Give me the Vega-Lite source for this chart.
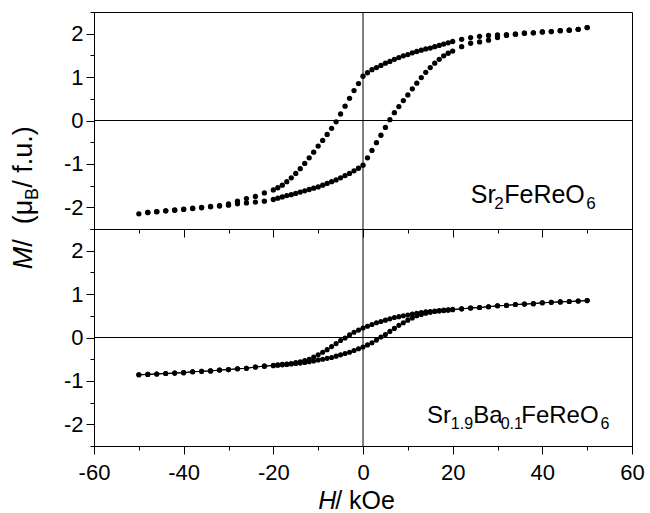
{
  "$schema": "https://vega.github.io/schema/vega-lite/v6.json",
  "background": "white",
  "autosize": {"type": "pad"},
  "padding": {"left": 9, "top": 11, "right": 5, "bottom": 0},
  "config": {
    "view": {"stroke": "black", "strokeWidth": 1},
    "font": "Liberation Sans",
    "axis": {"grid": false, "domainColor": "black", "tickColor": "black", "labelColor": "black", "labelFont": "Liberation Sans", "labelFontSize": 22, "tickWidth": 1, "domainWidth": 1}
  },
  "datasets": {
    "one": [{}],
    "top": [
      {"b":"d","H":50,"M":2.14},{"b":"d","H":48,"M":2.10},{"b":"d","H":46,"M":2.08},{"b":"d","H":44,"M":2.07},{"b":"d","H":42,"M":2.05},{"b":"d","H":40,"M":2.04},{"b":"d","H":38,"M":2.02},{"b":"d","H":36,"M":2.01},{"b":"d","H":34,"M":1.99},{"b":"d","H":32,"M":1.98},{"b":"d","H":30,"M":1.97},{"b":"d","H":28,"M":1.96},{"b":"d","H":26,"M":1.94},{"b":"d","H":24,"M":1.91},{"b":"d","H":22,"M":1.87},
      {"b":"d","H":20,"M":1.82},{"b":"d","H":19,"M":1.79},{"b":"d","H":18,"M":1.76},{"b":"d","H":17,"M":1.73},{"b":"d","H":16,"M":1.70},{"b":"d","H":15,"M":1.67},{"b":"d","H":14,"M":1.65},{"b":"d","H":13,"M":1.62},{"b":"d","H":12,"M":1.59},{"b":"d","H":11,"M":1.56},{"b":"d","H":10,"M":1.52},{"b":"d","H":9,"M":1.49},{"b":"d","H":8,"M":1.45},{"b":"d","H":7,"M":1.41},{"b":"d","H":6,"M":1.36},{"b":"d","H":5,"M":1.32},{"b":"d","H":4,"M":1.27},{"b":"d","H":3,"M":1.22},{"b":"d","H":2,"M":1.17},{"b":"d","H":1,"M":1.10},{"b":"d","H":0,"M":1.02},
      {"b":"d","H":-1,"M":0.85},{"b":"d","H":-2,"M":0.69},{"b":"d","H":-3,"M":0.51},{"b":"d","H":-4,"M":0.33},{"b":"d","H":-5,"M":0.15},{"b":"d","H":-6,"M":-0.03},{"b":"d","H":-7,"M":-0.18},{"b":"d","H":-8,"M":-0.32},{"b":"d","H":-9,"M":-0.46},{"b":"d","H":-10,"M":-0.59},{"b":"d","H":-11,"M":-0.73},{"b":"d","H":-12,"M":-0.86},{"b":"d","H":-13,"M":-0.99},{"b":"d","H":-14,"M":-1.11},{"b":"d","H":-15,"M":-1.22},{"b":"d","H":-16,"M":-1.32},{"b":"d","H":-17,"M":-1.41},{"b":"d","H":-18,"M":-1.49},{"b":"d","H":-19,"M":-1.55},{"b":"d","H":-20,"M":-1.60},
      {"b":"d","H":-22,"M":-1.67},{"b":"d","H":-24,"M":-1.75},{"b":"d","H":-26,"M":-1.80},{"b":"d","H":-28,"M":-1.86},{"b":"d","H":-30,"M":-1.92},{"b":"d","H":-32,"M":-1.96},{"b":"d","H":-34,"M":-1.98},{"b":"d","H":-36,"M":-2.00},{"b":"d","H":-38,"M":-2.02},{"b":"d","H":-40,"M":-2.04},{"b":"d","H":-42,"M":-2.06},{"b":"d","H":-44,"M":-2.08},{"b":"d","H":-46,"M":-2.10},{"b":"d","H":-48,"M":-2.12},{"b":"d","H":-50,"M":-2.15},
      {"b":"a","H":-48,"M":-2.12},{"b":"a","H":-46,"M":-2.10},{"b":"a","H":-44,"M":-2.08},{"b":"a","H":-42,"M":-2.07},{"b":"a","H":-40,"M":-2.05},{"b":"a","H":-38,"M":-2.03},{"b":"a","H":-36,"M":-2.01},{"b":"a","H":-34,"M":-1.99},{"b":"a","H":-32,"M":-1.97},{"b":"a","H":-30,"M":-1.95},{"b":"a","H":-28,"M":-1.92},{"b":"a","H":-26,"M":-1.90},{"b":"a","H":-24,"M":-1.88},{"b":"a","H":-22,"M":-1.86},
      {"b":"a","H":-20,"M":-1.82},{"b":"a","H":-19,"M":-1.79},{"b":"a","H":-18,"M":-1.76},{"b":"a","H":-17,"M":-1.73},{"b":"a","H":-16,"M":-1.71},{"b":"a","H":-15,"M":-1.68},{"b":"a","H":-14,"M":-1.65},{"b":"a","H":-13,"M":-1.62},{"b":"a","H":-12,"M":-1.59},{"b":"a","H":-11,"M":-1.56},{"b":"a","H":-10,"M":-1.53},{"b":"a","H":-9,"M":-1.49},{"b":"a","H":-8,"M":-1.45},{"b":"a","H":-7,"M":-1.41},{"b":"a","H":-6,"M":-1.37},{"b":"a","H":-5,"M":-1.32},{"b":"a","H":-4,"M":-1.27},{"b":"a","H":-3,"M":-1.22},{"b":"a","H":-2,"M":-1.16},{"b":"a","H":-1,"M":-1.10},{"b":"a","H":0,"M":-1.03},
      {"b":"a","H":1,"M":-0.86},{"b":"a","H":2,"M":-0.69},{"b":"a","H":3,"M":-0.51},{"b":"a","H":4,"M":-0.34},{"b":"a","H":5,"M":-0.16},{"b":"a","H":6,"M":0.02},{"b":"a","H":7,"M":0.18},{"b":"a","H":8,"M":0.32},{"b":"a","H":9,"M":0.46},{"b":"a","H":10,"M":0.59},{"b":"a","H":11,"M":0.73},{"b":"a","H":12,"M":0.86},{"b":"a","H":13,"M":0.99},{"b":"a","H":14,"M":1.11},{"b":"a","H":15,"M":1.22},{"b":"a","H":16,"M":1.32},{"b":"a","H":17,"M":1.41},{"b":"a","H":18,"M":1.49},{"b":"a","H":19,"M":1.55},{"b":"a","H":20,"M":1.60},
      {"b":"a","H":22,"M":1.70},{"b":"a","H":24,"M":1.78},{"b":"a","H":26,"M":1.81},{"b":"a","H":28,"M":1.85},{"b":"a","H":30,"M":1.91},{"b":"a","H":32,"M":1.96},{"b":"a","H":34,"M":1.99},{"b":"a","H":36,"M":2.01},{"b":"a","H":38,"M":2.02},{"b":"a","H":40,"M":2.04},{"b":"a","H":42,"M":2.05},{"b":"a","H":44,"M":2.07},{"b":"a","H":46,"M":2.08},{"b":"a","H":48,"M":2.10},{"b":"a","H":50,"M":2.14}
    ],
    "bottom": [
      {"b":"d","H":50,"M":0.85},{"b":"d","H":48,"M":0.84},{"b":"d","H":46,"M":0.83},{"b":"d","H":44,"M":0.82},{"b":"d","H":42,"M":0.81},{"b":"d","H":40,"M":0.80},{"b":"d","H":38,"M":0.78},{"b":"d","H":36,"M":0.77},{"b":"d","H":34,"M":0.76},{"b":"d","H":32,"M":0.74},{"b":"d","H":30,"M":0.73},{"b":"d","H":28,"M":0.71},{"b":"d","H":26,"M":0.69},{"b":"d","H":24,"M":0.68},{"b":"d","H":22,"M":0.66},
      {"b":"d","H":20,"M":0.65},{"b":"d","H":19,"M":0.64},{"b":"d","H":18,"M":0.63},{"b":"d","H":17,"M":0.62},{"b":"d","H":16,"M":0.61},{"b":"d","H":15,"M":0.60},{"b":"d","H":14,"M":0.59},{"b":"d","H":13,"M":0.575},{"b":"d","H":12,"M":0.56},{"b":"d","H":11,"M":0.54},{"b":"d","H":10,"M":0.52},{"b":"d","H":9,"M":0.50},{"b":"d","H":8,"M":0.48},{"b":"d","H":7,"M":0.46},{"b":"d","H":6,"M":0.43},{"b":"d","H":5,"M":0.40},{"b":"d","H":4,"M":0.37},{"b":"d","H":3,"M":0.34},{"b":"d","H":2,"M":0.30},{"b":"d","H":1,"M":0.26},{"b":"d","H":0,"M":0.22},
      {"b":"d","H":-1,"M":0.17},{"b":"d","H":-2,"M":0.12},{"b":"d","H":-3,"M":0.06},{"b":"d","H":-4,"M":-0.01},{"b":"d","H":-5,"M":-0.07},{"b":"d","H":-6,"M":-0.14},{"b":"d","H":-7,"M":-0.21},{"b":"d","H":-8,"M":-0.28},{"b":"d","H":-9,"M":-0.34},{"b":"d","H":-10,"M":-0.40},{"b":"d","H":-11,"M":-0.45},{"b":"d","H":-12,"M":-0.50},{"b":"d","H":-13,"M":-0.53},{"b":"d","H":-14,"M":-0.56},{"b":"d","H":-15,"M":-0.58},{"b":"d","H":-16,"M":-0.60},{"b":"d","H":-17,"M":-0.61},{"b":"d","H":-18,"M":-0.62},{"b":"d","H":-19,"M":-0.63},{"b":"d","H":-20,"M":-0.64},
      {"b":"d","H":-22,"M":-0.66},{"b":"d","H":-24,"M":-0.68},{"b":"d","H":-26,"M":-0.71},{"b":"d","H":-28,"M":-0.72},{"b":"d","H":-30,"M":-0.74},{"b":"d","H":-32,"M":-0.75},{"b":"d","H":-34,"M":-0.77},{"b":"d","H":-36,"M":-0.78},{"b":"d","H":-38,"M":-0.79},{"b":"d","H":-40,"M":-0.81},{"b":"d","H":-42,"M":-0.82},{"b":"d","H":-44,"M":-0.83},{"b":"d","H":-46,"M":-0.84},{"b":"d","H":-48,"M":-0.85},{"b":"d","H":-50,"M":-0.86},
      {"b":"a","H":-50,"M":-0.86},{"b":"a","H":-48,"M":-0.85},{"b":"a","H":-46,"M":-0.84},{"b":"a","H":-44,"M":-0.83},{"b":"a","H":-42,"M":-0.82},{"b":"a","H":-40,"M":-0.81},{"b":"a","H":-38,"M":-0.79},{"b":"a","H":-36,"M":-0.78},{"b":"a","H":-34,"M":-0.77},{"b":"a","H":-32,"M":-0.75},{"b":"a","H":-30,"M":-0.74},{"b":"a","H":-28,"M":-0.72},{"b":"a","H":-26,"M":-0.71},{"b":"a","H":-24,"M":-0.68},{"b":"a","H":-22,"M":-0.66},
      {"b":"a","H":-20,"M":-0.65},{"b":"a","H":-19,"M":-0.64},{"b":"a","H":-18,"M":-0.63},{"b":"a","H":-17,"M":-0.62},{"b":"a","H":-16,"M":-0.61},{"b":"a","H":-15,"M":-0.60},{"b":"a","H":-14,"M":-0.59},{"b":"a","H":-13,"M":-0.575},{"b":"a","H":-12,"M":-0.56},{"b":"a","H":-11,"M":-0.54},{"b":"a","H":-10,"M":-0.52},{"b":"a","H":-9,"M":-0.50},{"b":"a","H":-8,"M":-0.48},{"b":"a","H":-7,"M":-0.46},{"b":"a","H":-6,"M":-0.43},{"b":"a","H":-5,"M":-0.40},{"b":"a","H":-4,"M":-0.37},{"b":"a","H":-3,"M":-0.34},{"b":"a","H":-2,"M":-0.30},{"b":"a","H":-1,"M":-0.26},{"b":"a","H":0,"M":-0.22},
      {"b":"a","H":1,"M":-0.17},{"b":"a","H":2,"M":-0.12},{"b":"a","H":3,"M":-0.06},{"b":"a","H":4,"M":0.01},{"b":"a","H":5,"M":0.07},{"b":"a","H":6,"M":0.14},{"b":"a","H":7,"M":0.21},{"b":"a","H":8,"M":0.28},{"b":"a","H":9,"M":0.34},{"b":"a","H":10,"M":0.40},{"b":"a","H":11,"M":0.45},{"b":"a","H":12,"M":0.50},{"b":"a","H":13,"M":0.53},{"b":"a","H":14,"M":0.56},{"b":"a","H":15,"M":0.58},{"b":"a","H":16,"M":0.60},{"b":"a","H":17,"M":0.61},{"b":"a","H":18,"M":0.62},{"b":"a","H":19,"M":0.63},{"b":"a","H":20,"M":0.64},
      {"b":"a","H":22,"M":0.66},{"b":"a","H":24,"M":0.68},{"b":"a","H":26,"M":0.69},{"b":"a","H":28,"M":0.71},{"b":"a","H":30,"M":0.73},{"b":"a","H":32,"M":0.74},{"b":"a","H":34,"M":0.76},{"b":"a","H":36,"M":0.77},{"b":"a","H":38,"M":0.78},{"b":"a","H":40,"M":0.80},{"b":"a","H":42,"M":0.81},{"b":"a","H":44,"M":0.82},{"b":"a","H":46,"M":0.83},{"b":"a","H":48,"M":0.84},{"b":"a","H":50,"M":0.85}
    ],
    "txt": [
      {"p":"top","r":"main","H":24.05,"M":-1.91,"t":"Sr"},
      {"p":"top","r":"sub","H":29.3,"M":-1.91,"t":"2"},
      {"p":"top","r":"main","H":31.5,"M":-1.91,"t":"FeReO"},
      {"p":"top","r":"sub","H":49.8,"M":-1.91,"t":"6"},
      {"p":"bottom","r":"main","H":14.25,"M":-1.96,"t":"Sr"},
      {"p":"bottom","r":"sub","H":19.6,"M":-1.96,"t":"1.9"},
      {"p":"bottom","r":"main","H":24.6,"M":-1.96,"t":"Ba"},
      {"p":"bottom","r":"sub","H":30.7,"M":-1.96,"t":"0.1"},
      {"p":"bottom","r":"main","H":35.3,"M":-1.96,"t":"FeReO"},
      {"p":"bottom","r":"sub","H":52.95,"M":-1.96,"t":"6"},
      {"p":"top","r":"yit","H":-73.8,"M":-3.43,"t":"M"},
      {"p":"top","r":"y","H":-73.8,"M":-2.91,"t":"/"},
      {"p":"top","r":"y","H":-73.8,"M":-2.39,"t":"(μ"},
      {"p":"top","r":"ysub","H":-73.8,"M":-1.83,"t":"B"},
      {"p":"top","r":"y","H":-73.8,"M":-1.55,"t":"/ f.u.)"},
      {"p":"bottom","r":"xit","H":-9.97,"M":-3.96,"t":"H"},
      {"p":"bottom","r":"x","H":-6.2,"M":-3.96,"t":"/ kOe"}
    ]
  },
  "spacing": 0,
  "bounds": "flush",
  "vconcat": [
    {
      "width": 538,
      "height": 217,
      "resolve": {"axis": {"x": "independent", "y": "independent"}},
      "layer": [
        {"data": {"name": "one"}, "mark": {"type": "rule", "color": "black", "strokeWidth": 1},
         "encoding": {"x": {"datum": 0, "type": "quantitative", "scale": {"domain": [-60, 60], "nice": false, "zero": false},
                            "axis": {"orient": "bottom", "values": [-50,-30,-10,10,30,50], "labels": false, "domain": false, "tickSize": 4, "title": null}}}},
        {"data": {"name": "one"}, "mark": {"type": "rule", "color": "black", "strokeWidth": 1},
         "encoding": {"y": {"datum": 0, "type": "quantitative", "scale": {"domain": [-2.5, 2.5], "nice": false, "zero": false},
                            "axis": {"orient": "left", "values": [-2.5,-1.5,-0.5,0.5,1.5,2.5], "labels": false, "domain": false, "tickSize": 4, "title": null}}}},
        {"data": {"name": "top"}, "mark": {"type": "circle", "size": 28, "color": "black", "opacity": 1},
         "encoding": {
           "x": {"field": "H", "type": "quantitative", "scale": {"domain": [-60, 60], "nice": false, "zero": false},
                 "axis": {"orient": "bottom", "values": [-60,-40,-20,0,20,40,60], "labels": false, "title": null, "tickSize": 8}},
           "y": {"field": "M", "type": "quantitative", "scale": {"domain": [-2.5, 2.5], "nice": false, "zero": false},
                 "axis": {"orient": "left", "values": [-2,-1,0,1,2], "title": null, "labelPadding": 3, "labelOverlap": false, "labelFlush": false,
                          "labelExpr": "toString(datum.value)", "tickSize": 8}}
         }},
        {"data": {"name": "txt"}, "transform": [{"filter": "datum.p === 'top' && datum.r === 'main'"}],
         "mark": {"type": "text", "font": "Liberation Sans", "fontSize": 25, "align": "left", "baseline": "alphabetic", "color": "black"},
         "encoding": {"x": {"field": "H", "type": "quantitative", "scale": {"domain": [-60, 60], "nice": false, "zero": false}, "axis": null},
                      "y": {"field": "M", "type": "quantitative", "scale": {"domain": [-2.5, 2.5], "nice": false, "zero": false}, "axis": null},
                      "text": {"field": "t"}}},
        {"data": {"name": "txt"}, "transform": [{"filter": "datum.p === 'top' && datum.r === 'sub'"}],
         "mark": {"type": "text", "font": "Liberation Sans", "fontSize": 17, "dy": 6, "align": "left", "baseline": "alphabetic", "color": "black"},
         "encoding": {"x": {"field": "H", "type": "quantitative", "scale": {"domain": [-60, 60], "nice": false, "zero": false}, "axis": null},
                      "y": {"field": "M", "type": "quantitative", "scale": {"domain": [-2.5, 2.5], "nice": false, "zero": false}, "axis": null},
                      "text": {"field": "t"}}},
        {"data": {"name": "txt"}, "transform": [{"filter": "datum.r === 'y'"}],
         "mark": {"type": "text", "font": "Liberation Sans", "fontSize": 27, "angle": 270, "align": "left", "baseline": "alphabetic", "color": "black"},
         "encoding": {"x": {"field": "H", "type": "quantitative", "scale": {"domain": [-60, 60], "nice": false, "zero": false}, "axis": null},
                      "y": {"field": "M", "type": "quantitative", "scale": {"domain": [-2.5, 2.5], "nice": false, "zero": false}, "axis": null},
                      "text": {"field": "t"}}},
        {"data": {"name": "txt"}, "transform": [{"filter": "datum.r === 'yit'"}],
         "mark": {"type": "text", "font": "Liberation Sans", "fontSize": 27, "fontStyle": "italic", "angle": 270, "align": "left", "baseline": "alphabetic", "color": "black"},
         "encoding": {"x": {"field": "H", "type": "quantitative", "scale": {"domain": [-60, 60], "nice": false, "zero": false}, "axis": null},
                      "y": {"field": "M", "type": "quantitative", "scale": {"domain": [-2.5, 2.5], "nice": false, "zero": false}, "axis": null},
                      "text": {"field": "t"}}},
        {"data": {"name": "txt"}, "transform": [{"filter": "datum.r === 'ysub'"}],
         "mark": {"type": "text", "font": "Liberation Sans", "fontSize": 18, "dy": 6, "angle": 270, "align": "left", "baseline": "alphabetic", "color": "black"},
         "encoding": {"x": {"field": "H", "type": "quantitative", "scale": {"domain": [-60, 60], "nice": false, "zero": false}, "axis": null},
                      "y": {"field": "M", "type": "quantitative", "scale": {"domain": [-2.5, 2.5], "nice": false, "zero": false}, "axis": null},
                      "text": {"field": "t"}}}
      ]
    },
    {
      "width": 538,
      "height": 217,
      "resolve": {"axis": {"x": "independent", "y": "independent"}},
      "layer": [
        {"data": {"name": "one"}, "mark": {"type": "rule", "color": "black", "strokeWidth": 1},
         "encoding": {"x": {"datum": 0, "type": "quantitative", "scale": {"domain": [-60, 60], "nice": false, "zero": false},
                            "axis": {"orient": "bottom", "values": [-50,-30,-10,10,30,50], "labels": false, "domain": false, "tickSize": 4, "title": null}}}},
        {"data": {"name": "one"}, "mark": {"type": "rule", "color": "black", "strokeWidth": 1},
         "encoding": {"y": {"datum": 0, "type": "quantitative", "scale": {"domain": [-2.5, 2.5], "nice": false, "zero": false},
                            "axis": {"orient": "left", "values": [-2.5,-1.5,-0.5,0.5,1.5,2.5], "labels": false, "domain": false, "tickSize": 4, "title": null}}}},
        {"data": {"name": "bottom"}, "mark": {"type": "line", "color": "black", "strokeWidth": 1},
         "encoding": {
           "x": {"field": "H", "type": "quantitative", "scale": {"domain": [-60, 60], "nice": false, "zero": false},
                 "axis": {"orient": "bottom", "values": [-60,-40,-20,0,20,40,60], "title": null, "labelPadding": 8, "labelOverlap": false, "labelFlush": false,
                          "labelExpr": "toString(datum.value)", "tickSize": 8}},
           "y": {"field": "M", "type": "quantitative", "scale": {"domain": [-2.5, 2.5], "nice": false, "zero": false},
                 "axis": {"orient": "left", "values": [-2,-1,0,1,2], "title": null, "labelPadding": 3, "labelOverlap": false, "labelFlush": false,
                          "labelExpr": "toString(datum.value)", "tickSize": 8}},
           "detail": {"field": "b"}
         }},
        {"data": {"name": "bottom"}, "mark": {"type": "circle", "size": 26, "color": "black", "opacity": 1},
         "encoding": {"x": {"field": "H", "type": "quantitative", "scale": {"domain": [-60, 60], "nice": false, "zero": false}, "axis": null},
                      "y": {"field": "M", "type": "quantitative", "scale": {"domain": [-2.5, 2.5], "nice": false, "zero": false}, "axis": null}}},
        {"data": {"name": "txt"}, "transform": [{"filter": "datum.p === 'bottom' && datum.r === 'main'"}],
         "mark": {"type": "text", "font": "Liberation Sans", "fontSize": 24, "align": "left", "baseline": "alphabetic", "color": "black"},
         "encoding": {"x": {"field": "H", "type": "quantitative", "scale": {"domain": [-60, 60], "nice": false, "zero": false}, "axis": null},
                      "y": {"field": "M", "type": "quantitative", "scale": {"domain": [-2.5, 2.5], "nice": false, "zero": false}, "axis": null},
                      "text": {"field": "t"}}},
        {"data": {"name": "txt"}, "transform": [{"filter": "datum.p === 'bottom' && datum.r === 'sub'"}],
         "mark": {"type": "text", "font": "Liberation Sans", "fontSize": 16, "dy": 6, "align": "left", "baseline": "alphabetic", "color": "black"},
         "encoding": {"x": {"field": "H", "type": "quantitative", "scale": {"domain": [-60, 60], "nice": false, "zero": false}, "axis": null},
                      "y": {"field": "M", "type": "quantitative", "scale": {"domain": [-2.5, 2.5], "nice": false, "zero": false}, "axis": null},
                      "text": {"field": "t"}}},
        {"data": {"name": "txt"}, "transform": [{"filter": "datum.r === 'x'"}],
         "mark": {"type": "text", "font": "Liberation Sans", "fontSize": 25, "align": "left", "baseline": "alphabetic", "color": "black"},
         "encoding": {"x": {"field": "H", "type": "quantitative", "scale": {"domain": [-60, 60], "nice": false, "zero": false}, "axis": null},
                      "y": {"field": "M", "type": "quantitative", "scale": {"domain": [-2.5, 2.5], "nice": false, "zero": false}, "axis": null},
                      "text": {"field": "t"}}},
        {"data": {"name": "txt"}, "transform": [{"filter": "datum.r === 'xit'"}],
         "mark": {"type": "text", "font": "Liberation Sans", "fontSize": 25, "fontStyle": "italic", "align": "left", "baseline": "alphabetic", "color": "black"},
         "encoding": {"x": {"field": "H", "type": "quantitative", "scale": {"domain": [-60, 60], "nice": false, "zero": false}, "axis": null},
                      "y": {"field": "M", "type": "quantitative", "scale": {"domain": [-2.5, 2.5], "nice": false, "zero": false}, "axis": null},
                      "text": {"field": "t"}}}
      ]
    }
  ]
}
